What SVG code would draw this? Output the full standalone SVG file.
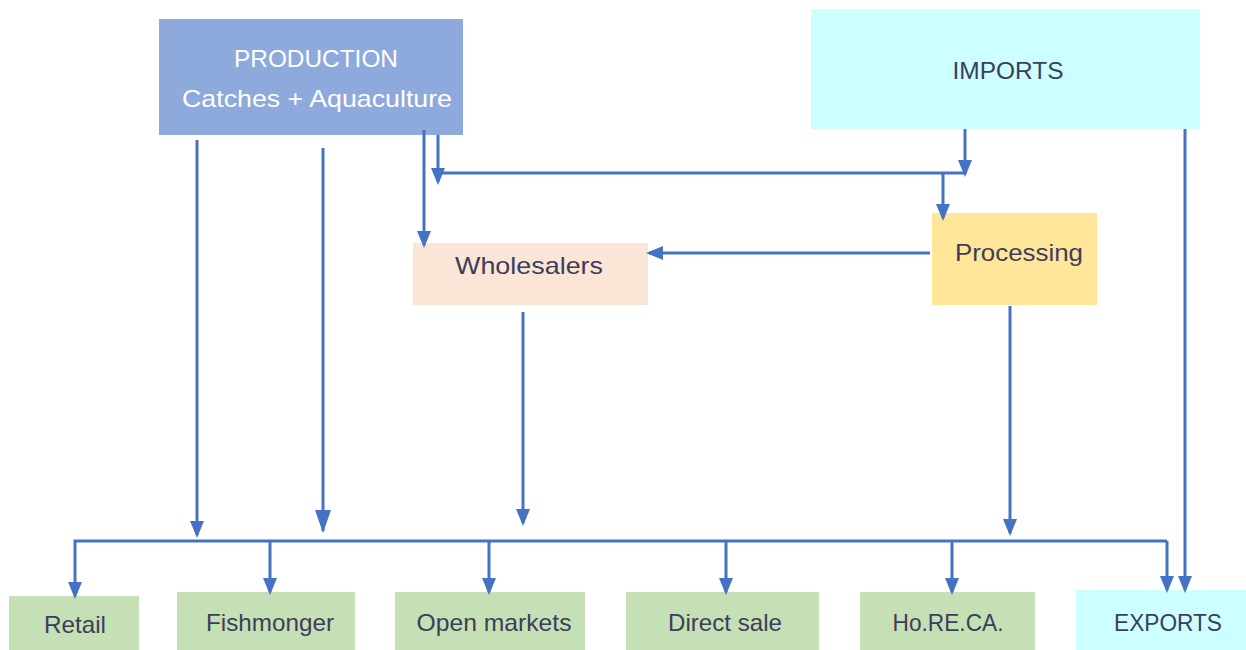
<svg xmlns="http://www.w3.org/2000/svg" width="1246" height="650" viewBox="0 0 1246 650">
<defs>
<style>
.lbl{font-family:"Liberation Sans",Arial,sans-serif;font-size:24px;fill:#3d3d5c;text-anchor:middle}
.wh{fill:#ffffff}
.c{fill:none;stroke:#4472C4;stroke-width:3}
.a{marker-end:url(#ah)}
.A{marker-end:url(#ahL)}
</style>
<marker id="ah" markerUnits="userSpaceOnUse" markerWidth="18" markerHeight="16" refX="14" refY="8" orient="auto" viewBox="0 0 18 16">
<path d="M0,1 L17,8 L0,15 z" fill="#4472C4"/>
</marker>
<marker id="ahL" markerUnits="userSpaceOnUse" markerWidth="24" markerHeight="18" refX="21" refY="9" orient="auto" viewBox="0 0 24 18">
<path d="M0,1 L23,9 L0,17 z" fill="#4472C4"/>
</marker>
</defs>
<rect width="1246" height="650" fill="#ffffff"/>
<g id="production">
<rect x="159" y="19" width="304" height="116" fill="#8EA9DB"/>
<text class="lbl wh" x="316" y="67" textLength="164" lengthAdjust="spacingAndGlyphs">PRODUCTION</text>
<text class="lbl wh" x="317" y="107" textLength="270" lengthAdjust="spacingAndGlyphs">Catches + Aquaculture</text>
</g>
<g id="imports">
<rect x="811" y="9" width="389" height="120" fill="#CCFFFF"/>
<text class="lbl" x="1008" y="79" textLength="111" lengthAdjust="spacingAndGlyphs">IMPORTS</text>
</g>
<g id="wholesalers">
<rect x="413" y="243" width="235" height="62" fill="#FBE5D6"/>
<text class="lbl" x="529" y="274" textLength="148" lengthAdjust="spacingAndGlyphs">Wholesalers</text>
</g>
<g id="processing">
<rect x="932" y="213" width="165" height="92" fill="#FFE699"/>
<text class="lbl" x="1019" y="261" textLength="128" lengthAdjust="spacingAndGlyphs">Processing</text>
</g>
<g id="retail">
<rect x="9" y="596" width="130" height="54" fill="#C5E0B4"/>
<text class="lbl" x="75" y="633" textLength="62" lengthAdjust="spacingAndGlyphs">Retail</text>
</g>
<g id="fishmonger">
<rect x="177" y="592" width="178" height="58" fill="#C5E0B4"/>
<text class="lbl" x="270" y="631" textLength="128" lengthAdjust="spacingAndGlyphs">Fishmonger</text>
</g>
<g id="open-markets">
<rect x="395" y="592" width="190" height="58" fill="#C5E0B4"/>
<text class="lbl" x="494" y="631" textLength="155" lengthAdjust="spacingAndGlyphs">Open markets</text>
</g>
<g id="direct-sale">
<rect x="626" y="592" width="193" height="58" fill="#C5E0B4"/>
<text class="lbl" x="725" y="631" textLength="114" lengthAdjust="spacingAndGlyphs">Direct sale</text>
</g>
<g id="horeca">
<rect x="860" y="592" width="175" height="58" fill="#C5E0B4"/>
<text class="lbl" x="948" y="631" textLength="111" lengthAdjust="spacingAndGlyphs">Ho.RE.CA.</text>
</g>
<g id="exports">
<rect x="1076" y="590" width="170" height="60" fill="#CCFFFF"/>
<text class="lbl" x="1168" y="631" textLength="108" lengthAdjust="spacingAndGlyphs">EXPORTS</text>
</g>
<g id="connectors">
<path class="c a" d="M424,130 V245"/>
<path class="c a" d="M438,135 V182"/>
<path class="c" d="M438,173 H965"/>
<path class="c a" d="M965,129 V174"/>
<path class="c a" d="M943,173 V218"/>
<path class="c a" d="M930,253 H649"/>
<path class="c a" d="M197,140 V535"/>
<path class="c A" d="M323,148 V531"/>
<path class="c a" d="M523,312 V523"/>
<path class="c a" d="M1010,306 V533"/>
<path class="c a" d="M1185,129 V590"/>
<path class="c a" d="M1167,541 H75 V596"/>
<path class="c a" d="M1167,541 V590"/>
<path class="c a" d="M270,541 V592"/>
<path class="c a" d="M489,541 V592"/>
<path class="c a" d="M726,541 V592"/>
<path class="c a" d="M952,541 V592"/>
</g>
</svg>
